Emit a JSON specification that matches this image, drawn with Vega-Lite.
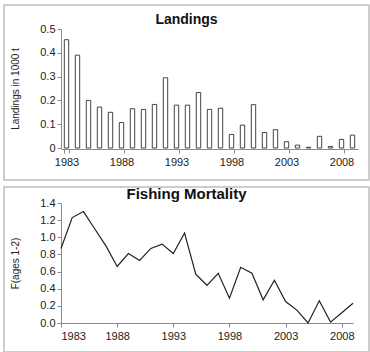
{
  "$schema": "https://vega.github.io/schema/vega-lite/v6.json",
  "padding": {"left": 3, "top": 4, "right": 0, "bottom": 0},
  "background": "white",
  "spacing": 5,
  "datasets": {
    "landings": [
      {"year": 1983, "landings": 0.455}, {"year": 1984, "landings": 0.39},
      {"year": 1985, "landings": 0.2}, {"year": 1986, "landings": 0.172},
      {"year": 1987, "landings": 0.15}, {"year": 1988, "landings": 0.107},
      {"year": 1989, "landings": 0.165}, {"year": 1990, "landings": 0.162},
      {"year": 1991, "landings": 0.183}, {"year": 1992, "landings": 0.295},
      {"year": 1993, "landings": 0.18}, {"year": 1994, "landings": 0.18},
      {"year": 1995, "landings": 0.233}, {"year": 1996, "landings": 0.162},
      {"year": 1997, "landings": 0.167}, {"year": 1998, "landings": 0.057},
      {"year": 1999, "landings": 0.096}, {"year": 2000, "landings": 0.182},
      {"year": 2001, "landings": 0.065}, {"year": 2002, "landings": 0.077},
      {"year": 2003, "landings": 0.026}, {"year": 2004, "landings": 0.012},
      {"year": 2005, "landings": 0.003}, {"year": 2006, "landings": 0.049},
      {"year": 2007, "landings": 0.006}, {"year": 2008, "landings": 0.036},
      {"year": 2009, "landings": 0.054}
    ],
    "mortality": [
      {"year": 1983, "F": 0.87}, {"year": 1984, "F": 1.23}, {"year": 1985, "F": 1.3},
      {"year": 1986, "F": 1.1}, {"year": 1987, "F": 0.9}, {"year": 1988, "F": 0.66},
      {"year": 1989, "F": 0.81}, {"year": 1990, "F": 0.73}, {"year": 1991, "F": 0.87},
      {"year": 1992, "F": 0.92}, {"year": 1993, "F": 0.81}, {"year": 1994, "F": 1.05},
      {"year": 1995, "F": 0.57}, {"year": 1996, "F": 0.44}, {"year": 1997, "F": 0.58},
      {"year": 1998, "F": 0.29}, {"year": 1999, "F": 0.65}, {"year": 2000, "F": 0.58},
      {"year": 2001, "F": 0.27}, {"year": 2002, "F": 0.5}, {"year": 2003, "F": 0.25},
      {"year": 2004, "F": 0.15}, {"year": 2005, "F": 0.0}, {"year": 2006, "F": 0.26},
      {"year": 2007, "F": 0.01}, {"year": 2008, "F": 0.12}, {"year": 2009, "F": 0.23}
    ]
  },
  "config": {
    "font": "Liberation Sans",
    "view": {"stroke": "#bdbdbd", "strokeWidth": 1.5},
    "axis": {
      "grid": false,
      "labelFont": "Liberation Sans",
      "labelFontSize": 11,
      "labelColor": "#222",
      "domainColor": "#8a8a8a",
      "tickColor": "#8a8a8a",
      "tickSize": 4,
      "titleFont": "Liberation Sans",
      "titleFontSize": 10,
      "titleFontWeight": "normal",
      "titleColor": "#222"
    },
    "title": {"font": "Liberation Sans", "fontWeight": "bold", "color": "#111", "anchor": "middle", "frame": "group", "baseline": "alphabetic"}
  },
  "vconcat": [
    {
      "width": 365,
      "height": 175,
      "title": {"text": "Landings", "fontSize": 14, "offset": -22},
      "data": {"name": "landings"},
      "mark": {"type": "bar", "fill": "white", "stroke": "#444", "strokeWidth": 1},
      "encoding": {
        "x": {
          "field": "year", "type": "ordinal",
          "scale": {"range": [57, 354], "paddingInner": 0.6, "paddingOuter": 0.3},
          "axis": {"title": null, "values": [1983, 1988, 1993, 1998, 2003, 2008], "labelAngle": 0, "offset": -31, "tickBand": "extent", "labelPadding": 3}
        },
        "y": {
          "field": "landings", "type": "quantitative",
          "scale": {"domain": [0, 0.5], "range": [143, 24], "nice": false},
          "axis": {"title": "Landings in 1000 t", "values": [0, 0.1, 0.2, 0.3, 0.4, 0.5], "format": ".1~f", "offset": -57, "titlePadding": 19}
        }
      }
    },
    {
      "width": 365,
      "height": 165,
      "title": {"text": "Fishing Mortality", "fontSize": 15, "offset": -15},
      "data": {"name": "mortality"},
      "mark": {"type": "line", "color": "#222", "strokeWidth": 1.2},
      "encoding": {
        "x": {
          "field": "year", "type": "quantitative",
          "scale": {"domain": [1983, 2009], "range": [57, 349], "nice": false, "zero": false},
          "axis": {"title": null, "values": [1983, 1988, 1993, 1998, 2003, 2008], "format": "d", "offset": -29, "labelPadding": 3}
        },
        "y": {
          "field": "F", "type": "quantitative",
          "scale": {"domain": [0, 1.4], "range": [136, 16], "nice": false},
          "axis": {"title": "F(ages 1-2)", "values": [0, 0.2, 0.4, 0.6, 0.8, 1.0, 1.2, 1.4], "format": ".1f", "offset": -57, "titlePadding": 19}
        }
      }
    }
  ]
}
